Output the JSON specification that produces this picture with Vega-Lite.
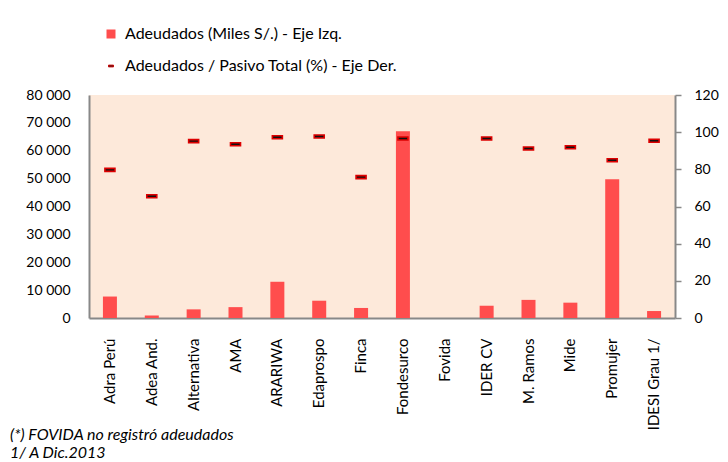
{
  "$schema": "https://vega.github.io/schema/vega-lite/v6.json",
  "autosize": {"type": "none"},
  "padding": {"left": 89, "top": 95, "right": 53, "bottom": 144},
  "width": 586,
  "height": 223,
  "background": "white",
  "config": {
    "font": "Lato",
    "view": {"fill": "#FDE9DA", "stroke": null},
    "axis": {"labelFont": "Lato", "labelFontSize": 14, "labelColor": "#000000", "grid": false, "domainColor": "#888888", "domainWidth": 2, "tickColor": "#888888", "tickWidth": 1.5}
  },
  "title": {
    "text": ["(*) FOVIDA no registró adeudados", "1/ A Dic.2013"],
    "orient": "bottom",
    "anchor": "start",
    "frame": "group",
    "dx": -79,
    "offset": -3,
    "font": "Lato",
    "fontStyle": "italic",
    "fontWeight": "normal",
    "fontSize": 16,
    "lineHeight": 18,
    "color": "#000000"
  },
  "data": {
    "values": [
      {"ent": "Adra Perú", "adeudados": 7700, "ratio": 79.7},
      {"ent": "Adea And.", "adeudados": 900, "ratio": 65.5},
      {"ent": "Alternativa", "adeudados": 3100, "ratio": 95.2},
      {"ent": "AMA", "adeudados": 3900, "ratio": 93.5},
      {"ent": "ARARIWA", "adeudados": 13000, "ratio": 97.3},
      {"ent": "Edaprospo", "adeudados": 6200, "ratio": 97.7},
      {"ent": "Finca", "adeudados": 3600, "ratio": 75.8},
      {"ent": "Fondesurco", "adeudados": 67000, "ratio": 96.6},
      {"ent": "Fovida", "adeudados": 0, "ratio": null},
      {"ent": "IDER CV", "adeudados": 4400, "ratio": 96.6},
      {"ent": "M. Ramos", "adeudados": 6500, "ratio": 91.2},
      {"ent": "Mide", "adeudados": 5500, "ratio": 91.9},
      {"ent": "Promujer", "adeudados": 49800, "ratio": 84.9},
      {"ent": "IDESI Grau 1/", "adeudados": 2500, "ratio": 95.4}
    ]
  },
  "encoding": {
    "x": {
      "field": "ent", "type": "nominal", "sort": null,
      "scale": {"paddingInner": 0, "paddingOuter": 0},
      "axis": {"title": null, "labelAngle": -90, "labelPadding": 20, "ticks": false, "labelFontSize": 15, "labelBaseline": "middle", "labelAlign": "right"}
    }
  },
  "layer": [
    {
      "mark": {"type": "bar", "size": 14, "fill": "#FF4D4D"},
      "encoding": {
        "y": {
          "field": "adeudados", "type": "quantitative",
          "scale": {"domain": [0, 80000], "nice": false},
          "axis": {"title": null, "values": [0, 10000, 20000, 30000, 40000, 50000, 60000, 70000, 80000], "labelExpr": "replace(format(datum.value, ','), ',', ' ')", "ticks": false, "labelPadding": 19}
        },
        "color": {
          "datum": "Adeudados (Miles S/.) - Eje Izq.",
          "scale": {"domain": ["Adeudados (Miles S/.) - Eje Izq.", "Adeudados / Pasivo Total (%) - Eje Der."], "range": ["#FF4D4D", "#111111"]},
          "legend": {
            "title": null, "orient": "none", "legendX": 14, "legendY": -69, "direction": "vertical",
            "labelFont": "Lato", "labelFontSize": 16, "labelColor": "#000000", "labelLimit": 0, "rowPadding": 16, "labelOffset": 6, "padding": 0,
            "symbolSize": 81,
            "encode": {
              "symbols": {
                "update": {
                  "shape": {"signal": "datum.value === 'Adeudados (Miles S/.) - Eje Izq.' ? 'square' : 'M-1,-0.35L1,-0.35L1,0.35L-1,0.35Z'"},
                  "size": {"signal": "datum.value === 'Adeudados (Miles S/.) - Eje Izq.' ? 81 : 25"},
                  "stroke": {"value": "#CC0000"},
                  "strokeWidth": {"signal": "datum.value === 'Adeudados (Miles S/.) - Eje Izq.' ? 0 : 1"},
                  "fill": {"signal": "datum.value === 'Adeudados (Miles S/.) - Eje Izq.' ? '#FF4D4D' : '#550000'"},
                  "opacity": {"value": 1},
                  "fillOpacity": {"value": 1}
                }
              }
            }
          }
        }
      }
    },
    {
      "mark": {"type": "point", "filled": true, "shape": "M-1,-0.3L1,-0.3L1,0.3L-1,0.3Z", "size": 100, "stroke": "#DD0000", "strokeWidth": 1.6, "opacity": 1},
      "encoding": {
        "y": {
          "field": "ratio", "type": "quantitative",
          "scale": {"domain": [0, 120], "nice": false},
          "axis": {"title": null, "orient": "right", "values": [0, 20, 40, 60, 80, 100, 120], "tickSize": 6, "labelPadding": 13}
        },
        "color": {"datum": "Adeudados / Pasivo Total (%) - Eje Der."}
      }
    }
  ],
  "resolve": {"scale": {"y": "independent"}}
}
